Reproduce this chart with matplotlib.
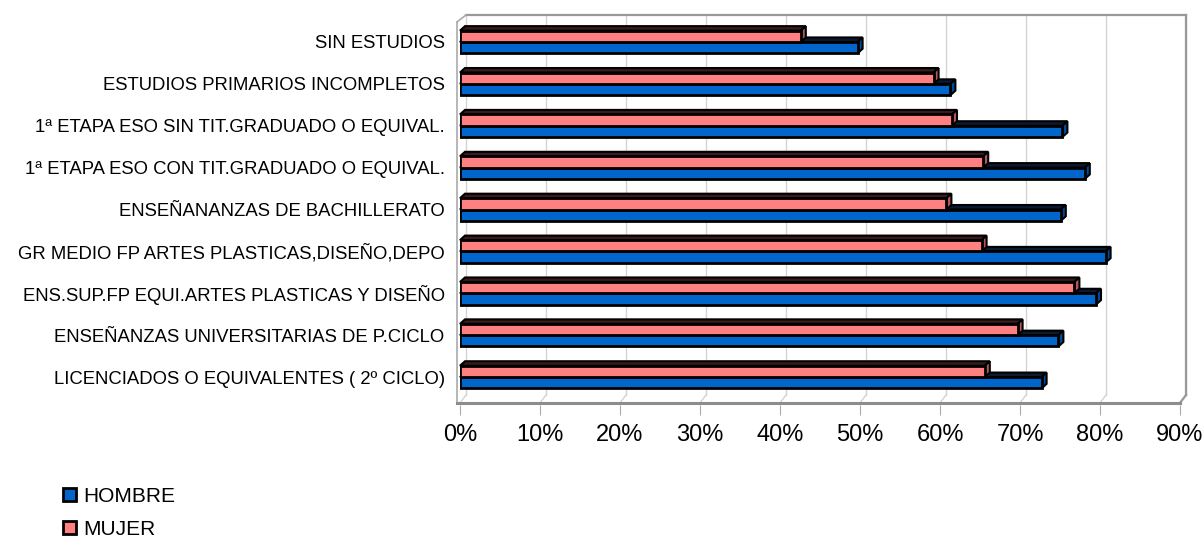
import matplotlib
matplotlib.use('Agg')
import matplotlib.pyplot as plt
from matplotlib.patches import Polygon
import numpy as np

plt.rcParams['font.family'] = ['Liberation Sans', 'DejaVu Sans']

## data
categorias = ['SIN ESTUDIOS',
              'ESTUDIOS PRIMARIOS INCOMPLETOS',
              '1ª ETAPA ESO SIN TIT.GRADUADO O EQUIVAL.',
              '1ª ETAPA ESO CON TIT.GRADUADO O EQUIVAL.',
              'ENSEÑANANZAS DE BACHILLERATO',
              'GR MEDIO FP ARTES PLASTICAS,DISEÑO,DEPO',
              'ENS.SUP.FP EQUI.ARTES PLASTICAS Y DISEÑO',
              'ENSEÑANZAS UNIVERSITARIAS DE P.CICLO',
              'LICENCIADOS O EQUIVALENTES ( 2º CICLO)']
hombre = [49.7, 61.3, 75.3, 78.1, 75.1, 80.7, 79.5, 74.8, 72.7]
mujer = [42.6, 59.2, 61.5, 65.4, 60.8, 65.2, 76.8, 69.7, 65.6]
xticks = [0, 10, 20, 30, 40, 50, 60, 70, 80, 90]

## figure
W, H = 1203, 538
fig = plt.figure(figsize=(W / 100, H / 100), dpi=100)
ax = fig.add_axes([460 / W, (H - 398) / H, 720 / W, 377 / H])
ax.set_xlim(0, 90)
ax.set_ylim(8.5, -0.5)

px_x = 90 / 720.0      # data units per pixel (x)
px_y = 9 / 377.0       # data units per pixel (y)
dx, dy = 5 * px_x, 4.5 * px_y        # bar depth
wx, wy = 6 * px_x, 6 * px_y          # back wall offset

y = np.arange(len(categorias))
h = 0.27
azul, azul_osc, azul_top = '#0066CC', '#004C99', '#0A1A33'
rosa, rosa_osc, rosa_top = '#FF8080', '#B35959', '#3A1A1A'

## back wall, grid, floor
top_y = -0.5 - wy
back_y = 8.5 - 3 * px_y
front_y = 8.5 + 5 * px_y
for xv in xticks:
    ax.plot([xv + wx, xv + wx], [top_y, back_y], color='#d4d4d4', lw=1, zorder=0, clip_on=False)
    ax.plot([xv, xv + wx], [front_y, back_y], color='#d4d4d4', lw=1, zorder=0, clip_on=False)
ax.plot([wx, 90 + wx], [top_y, top_y], color='#999999', lw=1.6, zorder=0, clip_on=False)
ax.plot([90 + wx, 90 + wx], [top_y, back_y], color='#999999', lw=1.6, zorder=0, clip_on=False)
ax.plot([90, 90 + wx], [front_y, back_y], color='#999999', lw=1.6, zorder=0, clip_on=False)
ax.plot([-3 * px_x, -3 * px_x], [front_y, -0.5 + 1 * px_y], color='#aaaaaa', lw=1.2, zorder=0, clip_on=False)
ax.plot([-3 * px_x, wx], [-0.5 + 1 * px_y, top_y], color='#aaaaaa', lw=1.2, zorder=0, clip_on=False)
ax.plot([-3 * px_x, 90], [front_y, front_y], color='#8c8c8c', lw=2.2, zorder=1, clip_on=False)


def bar3d(vals, yc, side, topc, z):
    for v, yy in zip(vals, yc):
        y0 = yy - h / 2
        y1 = yy + h / 2
        ax.add_patch(Polygon([(0, y0), (v, y0), (v + dx, y0 - dy), (dx, y0 - dy)],
                             closed=True, fc=topc, ec='black', lw=1.5, zorder=z, clip_on=False))
        ax.add_patch(Polygon([(v, y0), (v + dx, y0 - dy), (v + dx, y1 - dy), (v, y1)],
                             closed=True, fc=side, ec='black', lw=1.5, zorder=z, clip_on=False))


bar3d(hombre, y + h / 2, azul_osc, azul_top, 2)
ax.barh(y + h / 2, hombre, height=h, color=azul, edgecolor='black', lw=2, zorder=2.5, label='HOMBRE')
bar3d(mujer, y - h / 2, rosa_osc, rosa_top, 3)
ax.barh(y - h / 2, mujer, height=h, color=rosa, edgecolor='black', lw=2, zorder=3.5, label='MUJER')

## axes
for s in ax.spines.values():
    s.set_visible(False)
ax.spines['bottom'].set_position(('outward', 5))
ax.set_xticks(xticks)
ax.set_xticklabels([f'{v}%' for v in xticks], fontsize=17)
ax.tick_params(axis='x', direction='out', length=7, color='#aaaaaa', pad=7)
ax.set_yticks(y)
ax.set_yticklabels(categorias, fontsize=13.3)
ax.tick_params(axis='y', length=0, pad=11)
ax.patch.set_visible(False)

fig.legend(loc='upper left', bbox_to_anchor=(63 / W, 1 - 487 / H), frameon=False,
           fontsize=15, handlelength=0.6, handleheight=0.6, handletextpad=0.35,
           labelspacing=0.66, borderpad=0, borderaxespad=0)

fig.savefig('out.png', dpi=100)
